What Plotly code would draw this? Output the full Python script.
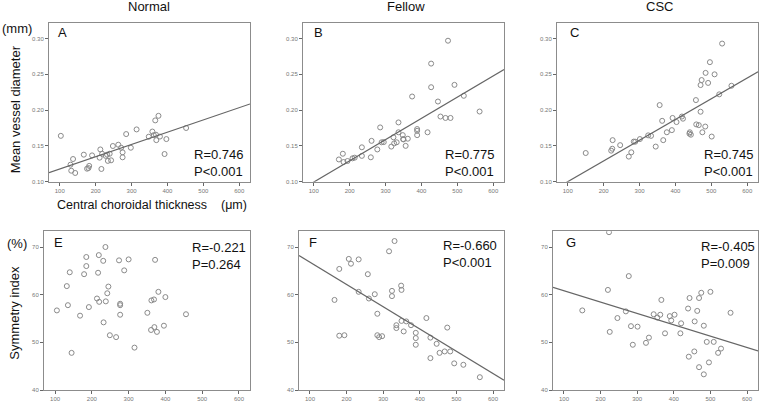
import plotly.graph_objects as go

# ---------------- data ----------------
A_x = [103,130,137,132,143,167,176,180,182,190,211,213,216,218,228,232,234,239,243,248,263,271,275,275,285,298,314,348,358,362,366,368,369,375,379,392,397,452]
A_y = [0.164,0.1237,0.1316,0.1153,0.1121,0.1377,0.1181,0.119,0.122,0.1367,0.1335,0.145,0.1177,0.139,0.136,0.1377,0.129,0.139,0.1298,0.1498,0.1516,0.1474,0.141,0.134,0.1665,0.1474,0.173,0.1628,0.170,0.165,0.1856,0.1656,0.158,0.192,0.163,0.1386,0.1595,0.175]

B_x = [170,181,183,194,208,214,234,234,259,261,277,285,289,295,316,322,324,331,336,336,348,349,350,356,362,374,388,388,388,417,427,427,446,453,467,474,481,492,518,562]
B_y = [0.131,0.139,0.1274,0.1288,0.1326,0.1335,0.148,0.136,0.134,0.157,0.145,0.1758,0.155,0.1553,0.149,0.162,0.1535,0.155,0.1828,0.169,0.165,0.1595,0.159,0.150,0.160,0.219,0.1735,0.171,0.165,0.169,0.265,0.232,0.212,0.191,0.189,0.297,0.189,0.2353,0.22,0.198]

C_x = [150,221,224,225,246,270,277,284,288,301,324,332,345,356,363,366,376,390,392,403,418,421,440,443,439,457,458,465,470,470,473,475,483,484,491,496,501,509,522,530,556]
C_y = [0.140,0.1433,0.146,0.158,0.151,0.135,0.141,0.156,0.1558,0.1595,0.1647,0.164,0.149,0.207,0.185,0.158,0.169,0.172,0.189,0.1833,0.191,0.188,0.169,0.1656,0.167,0.214,0.180,0.179,0.1977,0.235,0.242,0.169,0.177,0.252,0.238,0.267,0.163,0.250,0.222,0.293,0.234]

E_x = [105,132,135,140,145,168,179,185,185,192,214,217,219,220,231,232,237,238,242,245,249,266,274,277,277,277,288,300,316,351,361,362,369,370,372,377,381,396,400,456]
E_y = [56.7,61.8,57.8,64.7,47.8,55.6,64.3,67.9,66.0,57.4,59.2,64.6,68.3,58.5,67.1,54.2,70.0,58.6,60.3,61.7,51.5,51.1,67.2,58.1,57.8,55.8,65.1,67.4,48.9,56.2,52.6,58.8,59.0,53.2,67.3,52.2,60.6,53.5,59.5,55.9]

F_x = [167,180,180,194,206,212,233,233,258,261,277,284,284,289,297,316,324,324,331,336,336,349,350,350,356,363,376,389,389,389,418,429,429,446,454,468,475,483,494,519,564]
F_y = [58.9,65.4,51.4,51.5,67.5,66.5,67.4,60.6,64.3,59.2,60.1,56.0,51.5,51.1,51.3,69.1,60.8,59.7,71.25,53.6,53.0,61.9,61.0,54.5,52.3,54.4,53.6,52.0,50.9,49.5,55.1,51.0,46.7,49.7,47.8,48.1,53.1,48.1,45.6,45.3,42.7]

G_x = [150,220,223,225,246,269,277,283,288,301,324,332,345,355,363,366,376,389,393,402,418,420,439,441,443,456,457,464,469,469,475,482,482,490,496,500,509,521,529,555]
G_y = [56.7,61.0,73.1,52.2,55.1,56.5,63.9,53.4,49.5,53.3,49.9,51.0,55.9,55.2,55.8,58.9,51.9,55.5,54.6,55.8,51.9,54.0,57.1,47.0,59.3,48.1,54.4,56.6,44.8,59.3,60.4,53.5,43.3,50.1,45.8,60.6,50.1,47.8,48.7,56.2]

# regression lines (intercept, slope); None = no line
fits = {"A": (0.1006, 0.0001714), "B": (0.0697, 0.000297), "C": (0.071, 0.0002897),
        "E": None, "F": (71.47, -0.0467), "G": (63.2, -0.0238)}

panel_letters = ["A", "B", "C", "E", "F", "G"]
stats_text = ["R=0.746<br>P<0.001", "R=0.775<br>P<0.001", "R=0.745<br>P<0.001",
              "R=-0.221<br>P=0.264", "R=-0.660<br>P<0.001", "R=-0.405<br>P=0.009"]
col_titles = ["Normal", "Fellow", "CSC"]
x_ticks = [100, 200, 300, 400, 500, 600]
y_ticks_top = [0.10, 0.15, 0.20, 0.25, 0.30]
y_ticks_bot = [40, 50, 60, 70]

# ---------------- layout ----------------
W, H = 760, 402
def px_x(p): return p / W
def px_y(p): return 1 - p / H

panels = {
    "A": dict(xd=(49, 250), yd=(23, 183), data=(A_x, A_y), stat=(192, 154), let=(56, 33)),
    "B": dict(xd=(303, 504), yd=(23, 183), data=(B_x, B_y), stat=(443, 154), let=(312, 33)),
    "C": dict(xd=(557, 758), yd=(23, 183), data=(C_x, C_y), stat=(702, 154), let=(568, 33)),
    "E": dict(xd=(44, 250), yd=(233, 393), data=(E_x, E_y), stat=(190, 248), let=(52, 244)),
    "F": dict(xd=(299, 504), yd=(233, 393), data=(F_x, F_y), stat=(441, 246), let=(307, 244)),
    "G": dict(xd=(553, 758), yd=(233, 393), data=(G_x, G_y), stat=(699, 247), let=(564, 244)),
}

XR = [70, 630]
FONT = "Liberation Sans, Arial, sans-serif"
fig = go.Figure()
annotations = []

for i, key in enumerate(panel_letters):
    p = panels[key]
    n = i + 1
    xa = "x" if n == 1 else f"x{n}"
    ya = "y" if n == 1 else f"y{n}"
    top = i < 3
    xs, ys = p["data"]
    fig.add_trace(go.Scatter(x=xs, y=ys, mode="markers", xaxis=xa, yaxis=ya,
                             marker=dict(symbol="circle-open", size=5,
                                         color="#8a8a8a", line=dict(width=1)),
                             showlegend=False, hoverinfo="skip"))
    f = fits[key]
    if f is not None:
        b0, b1 = f
        fig.add_trace(go.Scatter(x=XR, y=[b0 + b1 * XR[0], b0 + b1 * XR[1]],
                                 mode="lines", xaxis=xa, yaxis=ya,
                                 line=dict(color="#666666", width=1.2),
                                 showlegend=False, hoverinfo="skip"))
    axis_common = dict(showgrid=False, zeroline=False, showline=True, mirror=True,
                       linecolor="#8c8c8c", linewidth=1, ticks="outside", ticklen=3,
                       tickcolor="#666", tickfont=dict(size=6, color="#777", family=FONT))
    fig.layout[f"xaxis{n if n > 1 else ''}"] = dict(
        domain=[px_x(p["xd"][0]), px_x(p["xd"][1])], range=XR, anchor=ya,
        tickvals=x_ticks, **axis_common)
    if top:
        yr = [0.10, 0.322]
        fig.layout[f"yaxis{n if n > 1 else ''}"] = dict(
            domain=[px_y(p["yd"][1]), px_y(p["yd"][0])], range=yr, anchor=xa,
            tickvals=y_ticks_top, tickformat=".2f", **axis_common)
    else:
        yr = [40, 73.3]
        fig.layout[f"yaxis{n if n > 1 else ''}"] = dict(
            domain=[px_y(p["yd"][1]), px_y(p["yd"][0])], range=yr, anchor=xa,
            tickvals=y_ticks_bot, **axis_common)
    # panel letter
    annotations.append(dict(x=px_x(p["let"][0]), y=px_y(p["let"][1]), xref="paper", yref="paper",
                            text=key, showarrow=False, xanchor="left", yanchor="middle",
                            font=dict(size=13, color="#111", family=FONT)))
    # stats
    annotations.append(dict(x=px_x(p["stat"][0]), y=px_y(p["stat"][1] - 8), xref="paper", yref="paper",
                            text=stats_text[i], showarrow=False, xanchor="left", yanchor="top",
                            align="left", font=dict(size=13, color="#111", family=FONT)))

# column titles
for t, cx in zip(col_titles, [149, 406, 659]):
    annotations.append(dict(x=px_x(cx), y=px_y(7), xref="paper", yref="paper", text=t,
                            showarrow=False, xanchor="center", yanchor="middle",
                            font=dict(size=13, color="#111", family=FONT)))

other = [
    dict(text="(mm)", x=0, y=29, xanchor="left", angle=0, size=13),
    dict(text="Mean vessel diameter", x=15, y=110, xanchor="center", angle=-90, size=13),
    dict(text="Central choroidal thickness\u00a0\u00a0\u00a0\u00a0(\u03bcm)", x=152, y=207,
         xanchor="center", angle=0, size=12.5),
    dict(text="(%)", x=5, y=245, xanchor="left", angle=0, size=13),
    dict(text="Symmetry index", x=15, y=315, xanchor="center", angle=-90, size=13),
]
for o in other:
    annotations.append(dict(x=px_x(o["x"]), y=px_y(o["y"]), xref="paper", yref="paper",
                            text=o["text"], showarrow=False, xanchor=o["xanchor"],
                            yanchor="middle", textangle=o["angle"],
                            font=dict(size=o["size"], color="#111", family=FONT)))

fig.update_layout(width=W, height=H, margin=dict(l=0, r=0, t=0, b=0),
                  paper_bgcolor="white", plot_bgcolor="white",
                  annotations=annotations, showlegend=False)

fig.write_html("out.html", config={"displayModeBar": False},
               post_script="document.body.style.margin='0';document.body.style.overflow='hidden';")
